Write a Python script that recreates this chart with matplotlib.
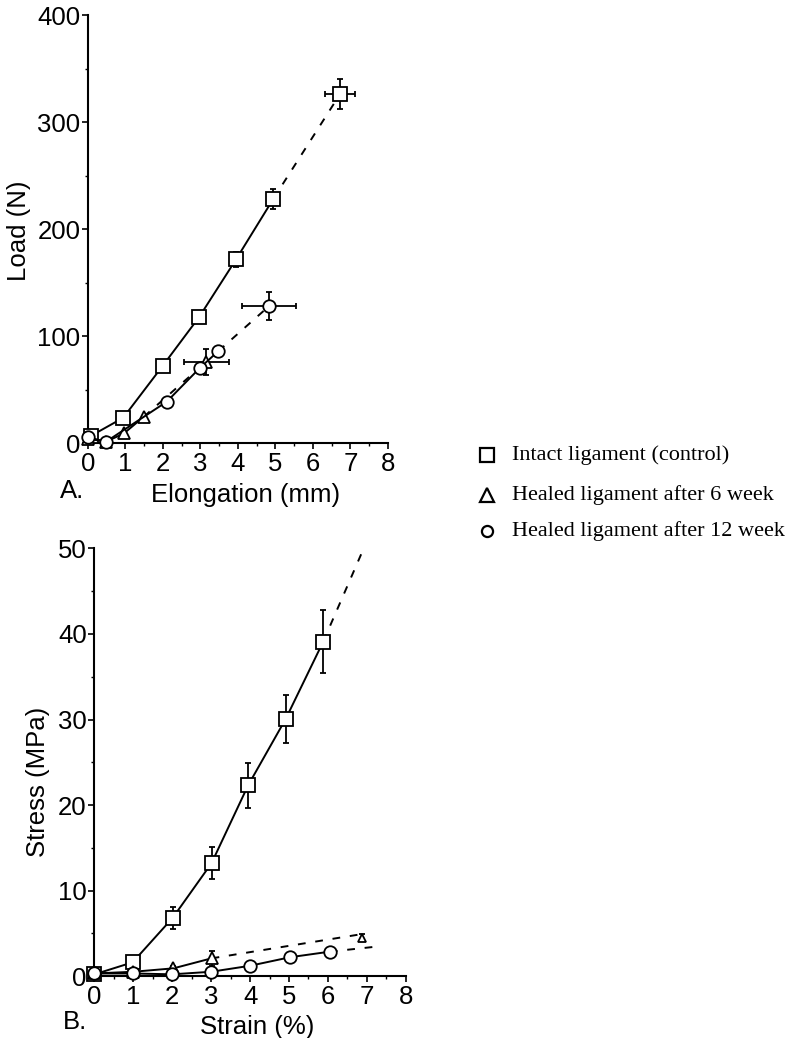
import matplotlib.pyplot as plt
from matplotlib.ticker import MultipleLocator

# --- A. load / elongation ---
a_sq_x = [0.07, 0.94, 1.99, 2.97, 3.95, 4.94]
a_sq_y = [6.5, 23.6, 72, 118, 171.7, 228]
a_sq_yerr = [0, 0, 0, 5, 7, 9]
a_sq_end = (6.72, 326)
a_sq_end_err = (0.41, 14)

a_tr_x = [0.0, 0.48, 0.96, 1.49]
a_tr_y = [4, 1.2, 9, 24.6]
a_tr_end = (3.16, 76)
a_tr_end_err = (0.6, 12)

a_ci_x = [0.0, 0.48, 2.1, 2.99, 3.48]
a_ci_y = [5.5, 1.2, 38.6, 70.4, 86]
a_ci_end = (4.83, 128)
a_ci_end_err = (0.72, 13)

# --- B. stress / strain ---
b_sq_x = [0, 0.98, 2.01, 3.01, 3.95, 4.92, 5.88]
b_sq_y = [0.2, 1.6, 6.8, 13.2, 22.3, 30.1, 39.1]
b_sq_err = [0, 0, 1.3, 1.85, 2.6, 2.8, 3.7]
b_sq_end = (6.93, 50.1)

b_tr_x = [0, 1.0, 2.03, 3.01]
b_tr_y = [0.3, 0.5, 0.9, 2.07]
b_tr_err = [0, 0, 0.3, 0.9]
b_tr_end = (6.87, 4.9)

b_ci_x = [0, 1.0, 2.0, 3.0, 4.0, 5.03, 6.05]
b_ci_y = [0.3, 0.3, 0.2, 0.5, 1.2, 2.2, 2.85]
b_ci_end = (7.17, 3.4)

legend_labels = ['Intact ligament (control)', 'Healed ligament after 6 week',
                 'Healed ligament after 12 week']

plt.rcParams['font.family'] = ['Liberation Sans', 'DejaVu Sans']
fs = 18.5
lw = 1.4
mk = dict(mfc='white', mec='black', mew=1.3, color='black', lw=lw, clip_on=False, zorder=3)
eb = dict(fmt='none', ecolor='black', elinewidth=1.3, capsize=2.5, capthick=1.3, clip_on=False, zorder=2)
dash = (0, (4, 5))

fig = plt.figure(figsize=(7.94, 10.38), dpi=100)
ax1 = fig.add_axes([0.1108, 0.5732, 0.3778, 0.4123])
ax2 = fig.add_axes([0.1190, 0.0597, 0.3919, 0.4119])


def style(ax, ymax, ystep):
    ax.set_xlim(0, 8)
    ax.set_ylim(0, ymax)
    for s in ['top', 'right']:
        ax.spines[s].set_visible(False)
    for s in ['left', 'bottom']:
        ax.spines[s].set_linewidth(1.5)
    ax.xaxis.set_major_locator(MultipleLocator(1))
    ax.xaxis.set_minor_locator(MultipleLocator(0.5))
    ax.yaxis.set_major_locator(MultipleLocator(ystep))
    ax.yaxis.set_minor_locator(MultipleLocator(ystep / 2))
    ax.tick_params(which='major', direction='out', length=4, width=1.2, labelsize=fs, pad=1.5)
    ax.tick_params(which='minor', direction='out', length=2, width=1.0)
    ax.tick_params(axis='x', which='major', pad=2.5)


# panel A
ax1.plot(a_sq_x, a_sq_y, marker='s', ms=10, **mk)
ax1.errorbar(a_sq_x, a_sq_y, yerr=a_sq_yerr, **eb)
ax1.plot([a_sq_x[-1], a_sq_end[0]], [a_sq_y[-1], a_sq_end[1]], ls=dash, color='black', lw=lw)
ax1.errorbar([a_sq_end[0]], [a_sq_end[1]], xerr=a_sq_end_err[0], yerr=a_sq_end_err[1], **eb)
ax1.plot([a_sq_end[0]], [a_sq_end[1]], marker='s', ms=10, **mk)

ax1.plot(a_tr_x, a_tr_y, marker='^', ms=8, **mk)
ax1.plot([a_tr_x[-1], a_tr_end[0]], [a_tr_y[-1], a_tr_end[1]], ls=dash, color='black', lw=lw)
ax1.errorbar([a_tr_end[0]], [a_tr_end[1]], xerr=a_tr_end_err[0], yerr=a_tr_end_err[1], **eb)
ax1.plot([a_tr_end[0]], [a_tr_end[1]], marker='^', ms=8, **mk)

ax1.plot(a_ci_x, a_ci_y, marker='o', ms=9, **mk)
ax1.plot([a_ci_x[-1], a_ci_end[0]], [a_ci_y[-1], a_ci_end[1]], ls=dash, color='black', lw=lw)
ax1.errorbar([a_ci_end[0]], [a_ci_end[1]], xerr=a_ci_end_err[0], yerr=a_ci_end_err[1], **eb)
ax1.plot([a_ci_end[0]], [a_ci_end[1]], marker='o', ms=9, **mk)

style(ax1, 400, 100)
ax1.set_ylabel('Load (N)', fontsize=fs)
ax1.yaxis.set_label_coords(-0.19, 0.495)
ax1.set_xlabel('Elongation (mm)', fontsize=fs)
ax1.xaxis.set_label_coords(0.525, -0.093)

# panel B
ax2.errorbar(b_sq_x, b_sq_y, yerr=b_sq_err, **eb)
ax2.plot(b_sq_x, b_sq_y, marker='s', ms=10, **mk)
ax2.plot([b_sq_x[-1], b_sq_end[0]], [b_sq_y[-1], b_sq_end[1]], ls=dash, color='black', lw=lw)

ax2.errorbar(b_tr_x, b_tr_y, yerr=b_tr_err, **eb)
ax2.plot(b_tr_x, b_tr_y, marker='^', ms=8, **mk)
ax2.plot([b_tr_x[-1], b_tr_end[0]], [b_tr_y[-1], b_tr_end[1]], ls=dash, color='black', lw=lw)
ax2.errorbar([b_tr_end[0]], [b_tr_end[1] - 0.4], yerr=0.4, **eb)
ax2.plot([b_tr_end[0]], [b_tr_end[1] - 0.4], marker='^', ms=6, **mk)

ax2.plot(b_ci_x, b_ci_y, marker='o', ms=9, **mk)
ax2.plot([b_ci_x[-1], b_ci_end[0]], [b_ci_y[-1], b_ci_end[1]], ls=dash, color='black', lw=lw)

style(ax2, 50, 10)
ax2.set_ylabel('Stress (MPa)', fontsize=fs)
ax2.yaxis.set_label_coords(-0.143, 0.454)
ax2.set_xlabel('Strain (%)', fontsize=fs)
ax2.xaxis.set_label_coords(0.522, -0.092)

fig.text(72 / 794, 1 - 491 / 1038, 'A.', fontsize=fs, ha='center', va='center')
fig.text(75 / 794, 1 - 1022 / 1038, 'B.', fontsize=fs, ha='center', va='center')

# legend, drawn by hand
leg_markers = ['s', '^', 'o']
leg_ms = [10, 10, 8]
leg_y = [455, 495, 531]
for m, s, lab, yy in zip(leg_markers, leg_ms, legend_labels, leg_y):
    fig.lines.append(plt.Line2D([487 / 794], [1 - yy / 1038], marker=m, ms=s, mfc='white',
                                mec='black', mew=1.6, ls='none', transform=fig.transFigure))
    fig.text(512 / 794, 1 - yy / 1038, lab, fontsize=16, family='Liberation Serif',
             ha='left', va='center')

fig.savefig('out.png', dpi=100)
